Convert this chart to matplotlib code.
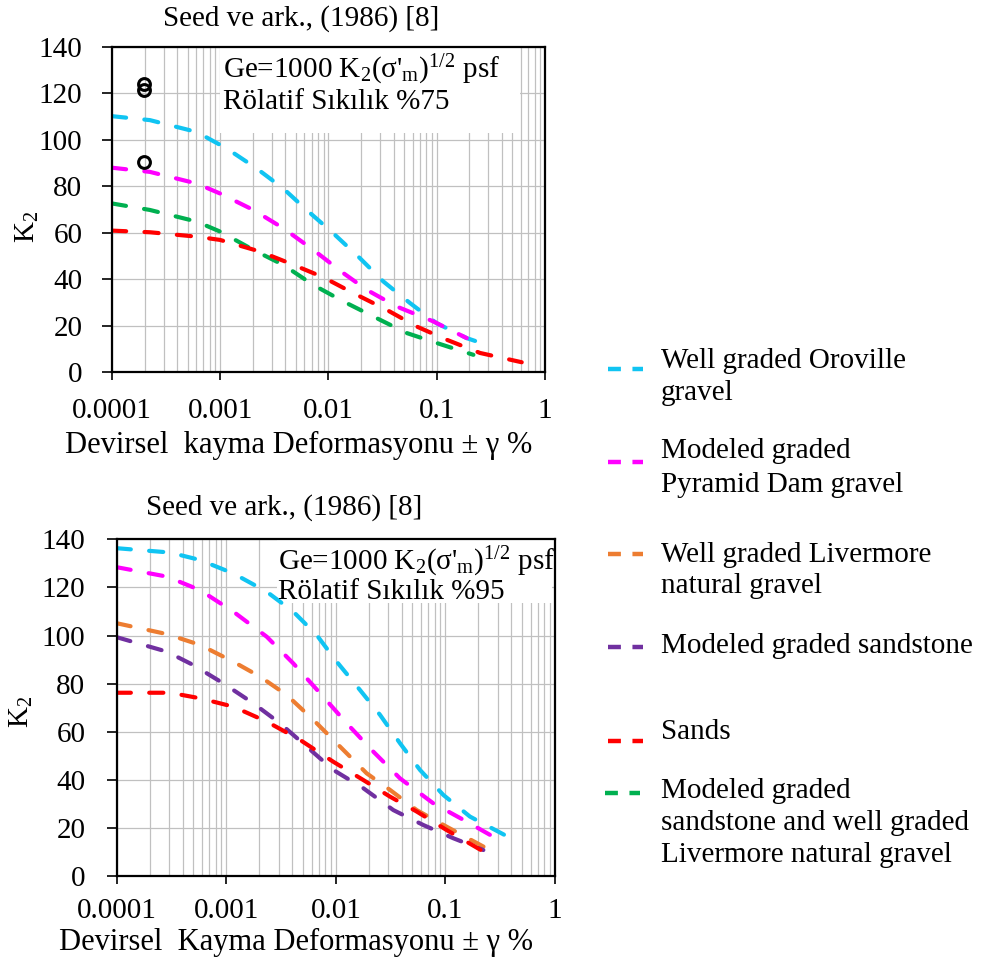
import numpy as np
import matplotlib
matplotlib.use('Agg')
import matplotlib.pyplot as plt
from matplotlib.lines import Line2D
from matplotlib.patches import Rectangle
from matplotlib.ticker import LogLocator, NullFormatter

plt.rcParams['font.family'] = ['Liberation Serif', 'DejaVu Serif']
plt.rcParams['mathtext.fontset'] = 'custom'
plt.rcParams['mathtext.rm'] = 'Liberation Serif'
plt.rcParams['mathtext.it'] = 'Liberation Serif:italic'
plt.rcParams['mathtext.bf'] = 'Liberation Serif:bold'

# ---------------- data ----------------
xticks = [0.0001, 0.001, 0.01, 0.1, 1]
xticklabels = ['0.0001', '0.001', '0.01', '0.1', '1']
yticks = [0, 20, 40, 60, 80, 100, 120, 140]

# Top panel: relative density 75 %
top_cyan_x = [0.0001, 0.000224, 0.000605, 0.001146, 0.002168, 0.00383, 0.00628, 0.0111, 0.01954, 0.0321, 0.0566, 0.0998, 0.189, 0.321]
top_cyan_y = [110.2, 108.5, 103.4, 96.3, 87.7, 79.0, 69.8, 59.7, 49.0, 39.0, 29.7, 21.0, 14.6, 11.0]
top_mag_x = [0.0001, 0.000224, 0.000605, 0.000995, 0.002023, 0.00383, 0.00724, 0.01371, 0.02254, 0.04266, 0.0929, 0.189]
top_mag_y = [88.0, 86.2, 81.2, 76.9, 69.8, 61.9, 52.6, 42.6, 35.4, 28.2, 21.8, 14.6]
top_green_x = [0.0001, 0.000224, 0.000605, 0.000995, 0.002023, 0.00383, 0.00724, 0.01371, 0.02786, 0.0527, 0.0998, 0.218]
top_green_y = [72.6, 69.8, 64.8, 60.5, 52.6, 46.1, 37.5, 30.4, 23.2, 16.8, 12.5, 7.4]
top_red_x = [0.0001, 0.000224, 0.000605, 0.000995, 0.002328, 0.0044, 0.00895, 0.01694, 0.03443, 0.0652, 0.1236, 0.2512, 0.6095]
top_red_y = [60.9, 60.2, 58.3, 56.9, 51.9, 46.8, 40.8, 34.0, 26.8, 19.6, 13.9, 8.2, 4.2]
top_points_x = [0.000198, 0.000198, 0.000198]
top_points_y = [124.0, 121.5, 90.6]

# Bottom panel: relative density 95 %
bot_cyan_x = [0.0001, 0.000307, 0.000575, 0.001161, 0.002339, 0.00409, 0.00668, 0.01019, 0.01663, 0.0253, 0.0385, 0.0586, 0.0957, 0.1675, 0.362]
bot_cyan_y = [136.3, 134.5, 131.4, 125.8, 118.2, 109.9, 100.2, 89.1, 77.3, 67.0, 55.2, 44.1, 33.7, 24.7, 16.6]
bot_mag_x = [0.0001, 0.000286, 0.000575, 0.001161, 0.002339, 0.00409, 0.00718, 0.01256, 0.02198, 0.0385, 0.0776, 0.1563, 0.2553]
bot_mag_y = [128.4, 124.5, 118.9, 109.9, 99.5, 88.4, 76.0, 63.5, 51.7, 40.6, 30.2, 22.6, 17.1]
bot_orange_x = [0.0001, 0.000286, 0.000575, 0.001161, 0.002032, 0.003556, 0.00624, 0.01092, 0.0191, 0.0312, 0.0547, 0.1026, 0.2377]
bot_orange_y = [105.1, 100.6, 96.1, 89.1, 82.9, 75.3, 64.9, 53.8, 42.7, 35.8, 27.4, 20.5, 11.5]
bot_purple_x = [0.0001, 0.000286, 0.000501, 0.00094, 0.001766, 0.00309, 0.00542, 0.00948, 0.01782, 0.0335, 0.0628, 0.118, 0.2218]
bot_purple_y = [99.3, 93.3, 87.7, 80.1, 71.8, 63.5, 53.8, 44.1, 36.5, 27.4, 21.2, 15.7, 10.8]
bot_red_x = [0.0001, 0.000307, 0.000575, 0.001161, 0.002339, 0.00471, 0.00948, 0.01782, 0.0312, 0.0547, 0.1026, 0.2377]
bot_red_y = [76.2, 76.2, 73.9, 70.4, 64.2, 56.6, 47.5, 39.9, 33.0, 26.8, 19.1, 9.4]

legend_labels = [
    ['Well graded Oroville', 'gravel'],
    ['Modeled graded', 'Pyramid Dam gravel'],
    ['Well graded Livermore', 'natural gravel'],
    ['Modeled graded sandstone'],
    ['Sands'],
    ['Modeled graded', 'sandstone and well graded', 'Livermore natural gravel'],
]

C_CYAN = '#10C4F2'
C_MAG = '#FF00FF'
C_ORANGE = '#ED7D31'
C_PURPLE = '#7030A0'
C_RED = '#FF0000'
C_GREEN = '#00B050'
legend_colors = [C_CYAN, C_MAG, C_ORANGE, C_PURPLE, C_RED, C_GREEN]

FS = 21
W, H = 987, 963
fig = plt.figure(figsize=(W / 100, H / 100), dpi=100)


def px_axes(l, t, r, b):
    return fig.add_axes([l / W, 1 - b / H, (r - l) / W, (b - t) / H])


ax1 = px_axes(112, 47, 545, 372)
ax2 = px_axes(116.7, 539.3, 555, 876)


def style(ax, xpad, ypad):
    ax.set_xscale('log')
    ax.set_xlim(1e-4, 1)
    ax.set_ylim(0, 140)
    ax.set_xticks(xticks, labels=xticklabels)
    ax.set_yticks(yticks)
    ax.xaxis.set_minor_locator(LogLocator(base=10, subs=np.arange(2, 10)))
    ax.xaxis.set_minor_formatter(NullFormatter())
    ax.set_axisbelow(True)
    ax.grid(True, which='major', color='#c0c0c0', lw=0.9)
    ax.grid(True, which='minor', axis='x', color='#c0c0c0', lw=0.9)
    for s in ax.spines.values():
        s.set_linewidth(1.6)
        s.set_color('black')
    ax.tick_params(axis='x', which='major', direction='out', length=6, width=1.2,
                   labelsize=FS, pad=xpad)
    ax.tick_params(axis='x', which='minor', length=0)
    ax.tick_params(axis='y', direction='out', length=7, width=1.2, labelsize=FS, pad=ypad)


style(ax1, 12.5, 14.4)
style(ax2, 9.5, 15.6)

line_kw = dict(lw=3.0, dashes=(3.4, 4.4), dash_capstyle='round')

ax1.plot(top_cyan_x, top_cyan_y, color=C_CYAN, **line_kw)
ax1.plot(top_mag_x, top_mag_y, color=C_MAG, **line_kw)
ax1.plot(top_green_x, top_green_y, color=C_GREEN, **line_kw)
ax1.plot(top_red_x, top_red_y, color=C_RED, **line_kw)
ax1.plot(top_points_x, top_points_y, 'o', mfc='none', mec='black', ms=8.5, mew=2.2, zorder=3)

ax2.plot(bot_cyan_x, bot_cyan_y, color=C_CYAN, **line_kw)
ax2.plot(bot_mag_x, bot_mag_y, color=C_MAG, **line_kw)
ax2.plot(bot_orange_x, bot_orange_y, color=C_ORANGE, **line_kw)
ax2.plot(bot_purple_x, bot_purple_y, color=C_PURPLE, **line_kw)
ax2.plot(bot_red_x, bot_red_y, color=C_RED, **line_kw)

# white annotation boxes
ax1.add_patch(Rectangle((0.249, 0.735), 0.693, 0.265, transform=ax1.transAxes,
                        facecolor='white', edgecolor='none', zorder=1))
ax2.add_patch(Rectangle((0.365, 0.812), 0.6275, 0.188, transform=ax2.transAxes,
                        facecolor='white', edgecolor='none', zorder=1))

ge_text = r"Ge=1000 K$_2$(σ'$_\mathrm{m}$)$^{1/2}$ psf"
ax1.text(0.256, 0.905, ge_text, transform=ax1.transAxes, fontsize=FS, va='baseline', ha='left', zorder=4)
ax1.text(0.256, 0.808, 'Rölatif Sıkılık %75', transform=ax1.transAxes, fontsize=FS, va='baseline', ha='left', zorder=4)
ax2.text(0.369, 0.909, ge_text, transform=ax2.transAxes, fontsize=FS, va='baseline', ha='left', zorder=4)
ax2.text(0.369, 0.823, 'Rölatif Sıkılık %95', transform=ax2.transAxes, fontsize=FS, va='baseline', ha='left', zorder=4)

# titles
ax1.text(0.4365, 1.0646, 'Seed ve ark., (1986) [8]', transform=ax1.transAxes, fontsize=FS,
         ha='center', va='baseline')
ax2.text(0.383, 1.072, 'Seed ve ark., (1986) [8]', transform=ax2.transAxes, fontsize=FS,
         ha='center', va='baseline')

# axis labels
ax1.set_xlabel('Devirsel  kayma Deformasyonu ± γ %', fontsize=22)
ax1.xaxis.set_label_coords(0.432, -0.249)
ax1.xaxis.label.set_va('baseline')
ax2.set_xlabel('Devirsel  Kayma Deformasyonu ± γ %', fontsize=22)
ax2.xaxis.set_label_coords(0.41, -0.2198)
ax2.xaxis.label.set_va('baseline')

ax1.set_ylabel(r'K$_2$', fontsize=FS)
ax1.yaxis.set_label_coords(-0.1963, 0.446)
ax1.yaxis.label.set_va('center')
ax2.set_ylabel(r'K$_2$', fontsize=FS)
ax2.yaxis.set_label_coords(-0.2183, 0.487)
ax2.yaxis.label.set_va('center')

# legend (figure-level, manual layout)
handle_y = [369, 462, 554, 647, 741, 793]
handle_x0 = [608, 608, 608, 608, 608, 605]
text_baselines = [[368, 400], [458, 492], [562, 593], [653], [739], [798, 830, 862]]
for col, hy, hx0, labels, bases in zip(legend_colors, handle_y, handle_x0, legend_labels, text_baselines):
    fig.add_artist(Line2D([hx0 / W, (hx0 + 35) / W], [1 - hy / H, 1 - hy / H],
                          transform=fig.transFigure, color=col, lw=3.2,
                          dashes=(2.9, 2.6), dash_capstyle='butt'))
    for lab, b in zip(labels, bases):
        fig.text(661 / W, 1 - b / H, lab, fontsize=FS, ha='left', va='baseline')

fig.savefig('out.png', dpi=100)
